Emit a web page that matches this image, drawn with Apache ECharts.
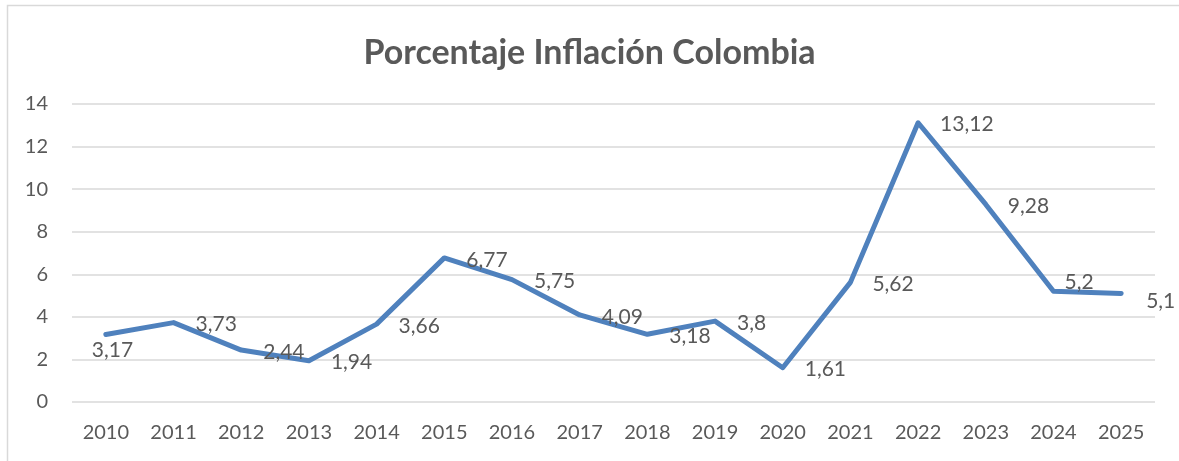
<!DOCTYPE html>
<html>
<head>
<meta charset="utf-8">
<script src="https://cdn.jsdelivr.net/npm/echarts@6/dist/echarts.min.js"></script>
<style>
  html, body { margin: 0; padding: 0; background: #fff; }
  #chart { width: 1179px; height: 461px; }
</style>
</head>
<body>
<div id="chart"></div>
<script>
const years = ['2010', '2011', '2012', '2013', '2014', '2015', '2016', '2017',
  '2018', '2019', '2020', '2021', '2022', '2023', '2024', '2025'];
const inflation = [3.17, 3.73, 2.44, 1.94, 3.66, 6.77, 5.75, 4.09,
  3.18, 3.8, 1.61, 5.62, 13.12, 9.28, 5.2, 5.1];

// a couple of labels were nudged by hand in the original
const labelNudge = { 0: [-36, 16], 14: [-11, -9], 15: [3, 8] };

const font = 'Lato, "Open Sans", sans-serif';
const textColor = '#595959';

const chart = echarts.init(document.getElementById('chart'), null, { renderer: 'canvas' });

chart.setOption({
  backgroundColor: '#fff',
  animation: false,
  title: {
    text: 'Porcentaje Inflación Colombia',
    left: 'center',
    top: 31,
    textStyle: { color: textColor, fontSize: 34, fontWeight: 'bold', fontFamily: font },
  },
  graphic: [{
    type: 'rect',
    shape: { x: 7.5, y: 5.5, width: 1190, height: 470 },
    style: { fill: 'none', stroke: '#d9d9d9', lineWidth: 1.5 },
    silent: true,
  }],
  grid: { left: 72, right: 24, top: 104, bottom: 59 },
  xAxis: {
    type: 'category',
    data: years,
    boundaryGap: true,
    axisLine: { show: false },
    axisTick: { show: false },
    axisLabel: { color: textColor, fontSize: 20, fontFamily: font, margin: 21 },
  },
  yAxis: {
    type: 'value',
    min: 0,
    max: 14,
    interval: 2,
    axisLine: { show: false },
    axisTick: { show: false },
    axisLabel: { color: textColor, fontSize: 20, fontFamily: font, margin: 24 },
    splitLine: { lineStyle: { color: '#d9d9d9', width: 1.5 } },
  },
  series: [{
    type: 'line',
    data: inflation.map((v, i) => {
      const item = { value: v };
      if (labelNudge[i]) item.label = { offset: labelNudge[i] };
      return item;
    }),
    symbol: 'circle',
    symbolSize: 2,
    showSymbol: true,
    lineStyle: { color: '#4f81bd', width: 5, cap: 'round', join: 'round' },
    itemStyle: { color: 'rgba(79,129,189,0)' },
    label: {
      show: true,
      position: 'right',
      distance: 21,
      offset: [0, 2],
      color: textColor,
      fontSize: 21,
      fontFamily: font,
      formatter: (p) => String(p.value).replace('.', ','),
    },
  }],
});
</script>
</body>
</html>
